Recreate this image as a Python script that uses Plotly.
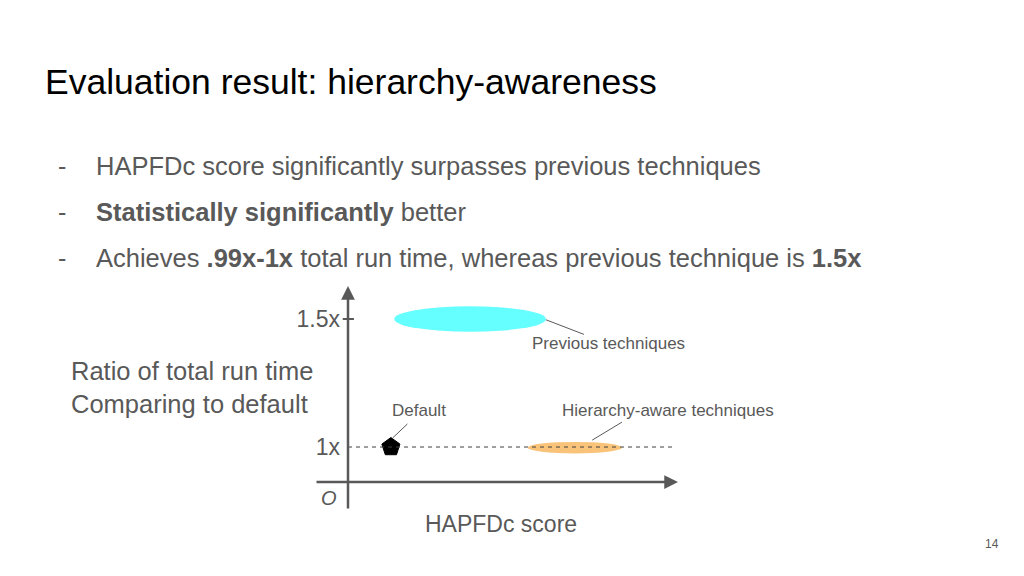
import plotly.graph_objects as go

# slide text
title = "Evaluation result: hierarchy-awareness"
bullets = [
    "HAPFDc score significantly surpasses previous techniques",
    "<b>Statistically significantly</b> better",
    "Achieves <b>.99x-1x</b> total run time, whereas previous technique is <b>1.5x</b>",
]
y_label = "Ratio of total run time<br>Comparing to default"
x_label = "HAPFDc score"
page_no = "14"

# schematic values (score in arbitrary units, ratio of run time)
ratio_ticks = [1.0, 1.5]
ratio_tick_text = ["1x", "1.5x"]
default_score = [0.13]
default_ratio = [1.0]
prev_score = [0.14, 0.60]
prev_ratio = [1.45, 1.55]
hier_score = [0.545, 0.83]
hier_ratio = [0.975, 1.02]
baseline_end = 0.985

x_range = [-0.1, 1.0]
y_range = [0.754, 1.629]
x_axis_at = 0.863

GREY = "#595959"
FONT = "Liberation Sans, Arial, sans-serif"

W, H = 1024, 576
OFF = 8   # page margin around the figure
PAD = 3   # annotation inner padding

def px(x):
    return (x - OFF) / W

def py(y):
    return 1 - (y - OFF) / H

fig = go.Figure()

# default technique marker
fig.add_trace(go.Scatter(
    x=default_score, y=default_ratio, mode="markers",
    marker=dict(symbol="pentagon", size=19, color="black",
                line=dict(color="black", width=1)),
    hoverinfo="skip", showlegend=False,
))

# ellipses for technique groups
fig.add_shape(type="circle", xref="x", yref="y",
              x0=prev_score[0], x1=prev_score[1], y0=prev_ratio[0], y1=prev_ratio[1],
              fillcolor="#66FFFF", line_width=0, layer="below")
fig.add_shape(type="circle", xref="x", yref="y",
              x0=hier_score[0], x1=hier_score[1], y0=hier_ratio[0], y1=hier_ratio[1],
              fillcolor="#F9C47A", line_width=0, layer="below")

# 1x baseline
fig.add_shape(type="line", xref="x", yref="y",
              x0=0, x1=baseline_end, y0=1.0, y1=1.0,
              line=dict(color="#404040", width=1, dash="4px,4px"))

# 1.5x tick across the axis
fig.add_shape(type="line", xref="x", yref="y",
              x0=-0.016, x1=0.018, y0=1.5, y1=1.5,
              line=dict(color=GREY, width=2))

# leader lines
fig.add_shape(type="line", xref="x", yref="y", x0=prev_score[1], y0=1.497, x1=0.715, y1=1.44,
              line=dict(color=GREY, width=1))
fig.add_shape(type="line", xref="x", yref="y", x0=0.135, y0=1.035, x1=0.18, y1=1.09,
              line=dict(color=GREY, width=1))
fig.add_shape(type="line", xref="x", yref="y", x0=0.74, y0=1.027, x1=0.83, y1=1.097,
              line=dict(color=GREY, width=1))

# axes with arrowheads
arrow = dict(showarrow=True, arrowhead=2, arrowsize=1.1, arrowwidth=2.5, arrowcolor=GREY,
             text="", xref="x", yref="y", axref="x", ayref="y")
fig.add_annotation(x=x_range[1], y=x_axis_at, ax=x_range[0], ay=x_axis_at, **arrow)
fig.add_annotation(x=0, y=y_range[1], ax=0, ay=y_range[0], **arrow)

# slide text
fig.add_annotation(x=px(46 - PAD), y=py(82), xref="paper", yref="paper", text=title,
                   showarrow=False, xanchor="left", yanchor="middle",
                   font=dict(family=FONT, size=35.5, color="black"))
for i, b in enumerate(bullets):
    yy = py(166 + 46 * i)
    fig.add_annotation(x=px(59 - PAD), y=yy, xref="paper", yref="paper", text="-",
                       showarrow=False, xanchor="left", yanchor="middle",
                       font=dict(family=FONT, size=25, color=GREY))
    fig.add_annotation(x=px(97 - PAD), y=yy, xref="paper", yref="paper", text=b,
                       showarrow=False, xanchor="left", yanchor="middle",
                       font=dict(family=FONT, size=25.5, color=GREY))

fig.add_annotation(x=px(72 - PAD), y=py(387), xref="paper", yref="paper", text=y_label,
                   showarrow=False, xanchor="left", yanchor="middle", align="left",
                   font=dict(family=FONT, size=25.5, color=GREY))
fig.add_annotation(x=px(501), y=py(524), xref="paper", yref="paper", text=x_label,
                   showarrow=False, xanchor="center", yanchor="middle",
                   font=dict(family=FONT, size=23, color=GREY))
fig.add_annotation(x=px(329), y=py(498), xref="paper", yref="paper", text="<i>O</i>",
                   showarrow=False, xanchor="center", yanchor="middle",
                   font=dict(family=FONT, size=20, color=GREY))
fig.add_annotation(x=px(992), y=py(544), xref="paper", yref="paper", text=page_no,
                   showarrow=False, xanchor="center", yanchor="middle",
                   font=dict(family=FONT, size=12, color=GREY))

# point labels
lab = dict(showarrow=False, xref="x", yref="y", xanchor="center", yanchor="middle",
           font=dict(family=FONT, size=17, color=GREY))
fig.add_annotation(x=0.79, y=1.405, text="Previous techniques", **lab)
fig.add_annotation(x=0.215, y=1.144, text="Default", **lab)
fig.add_annotation(x=0.97, y=1.144, text="Hierarchy-aware techniques", **lab)

fig.update_xaxes(range=x_range, domain=[px(315), px(678)],
                 showgrid=False, zeroline=False, showline=False,
                 showticklabels=False, ticks="")
fig.update_yaxes(range=y_range, domain=[py(510), py(286)],
                 anchor="free", position=px(349),
                 tickvals=ratio_ticks, ticktext=ratio_tick_text, ticks="",
                 ticklabelstandoff=9,
                 tickfont=dict(family=FONT, size=23, color=GREY),
                 showgrid=False, zeroline=False, showline=False)

fig.update_layout(
    width=W, height=H,
    margin=dict(l=0, r=0, t=0, b=0),
    paper_bgcolor="white", plot_bgcolor="white",
    showlegend=False,
)

fig.write_html("out.html")
